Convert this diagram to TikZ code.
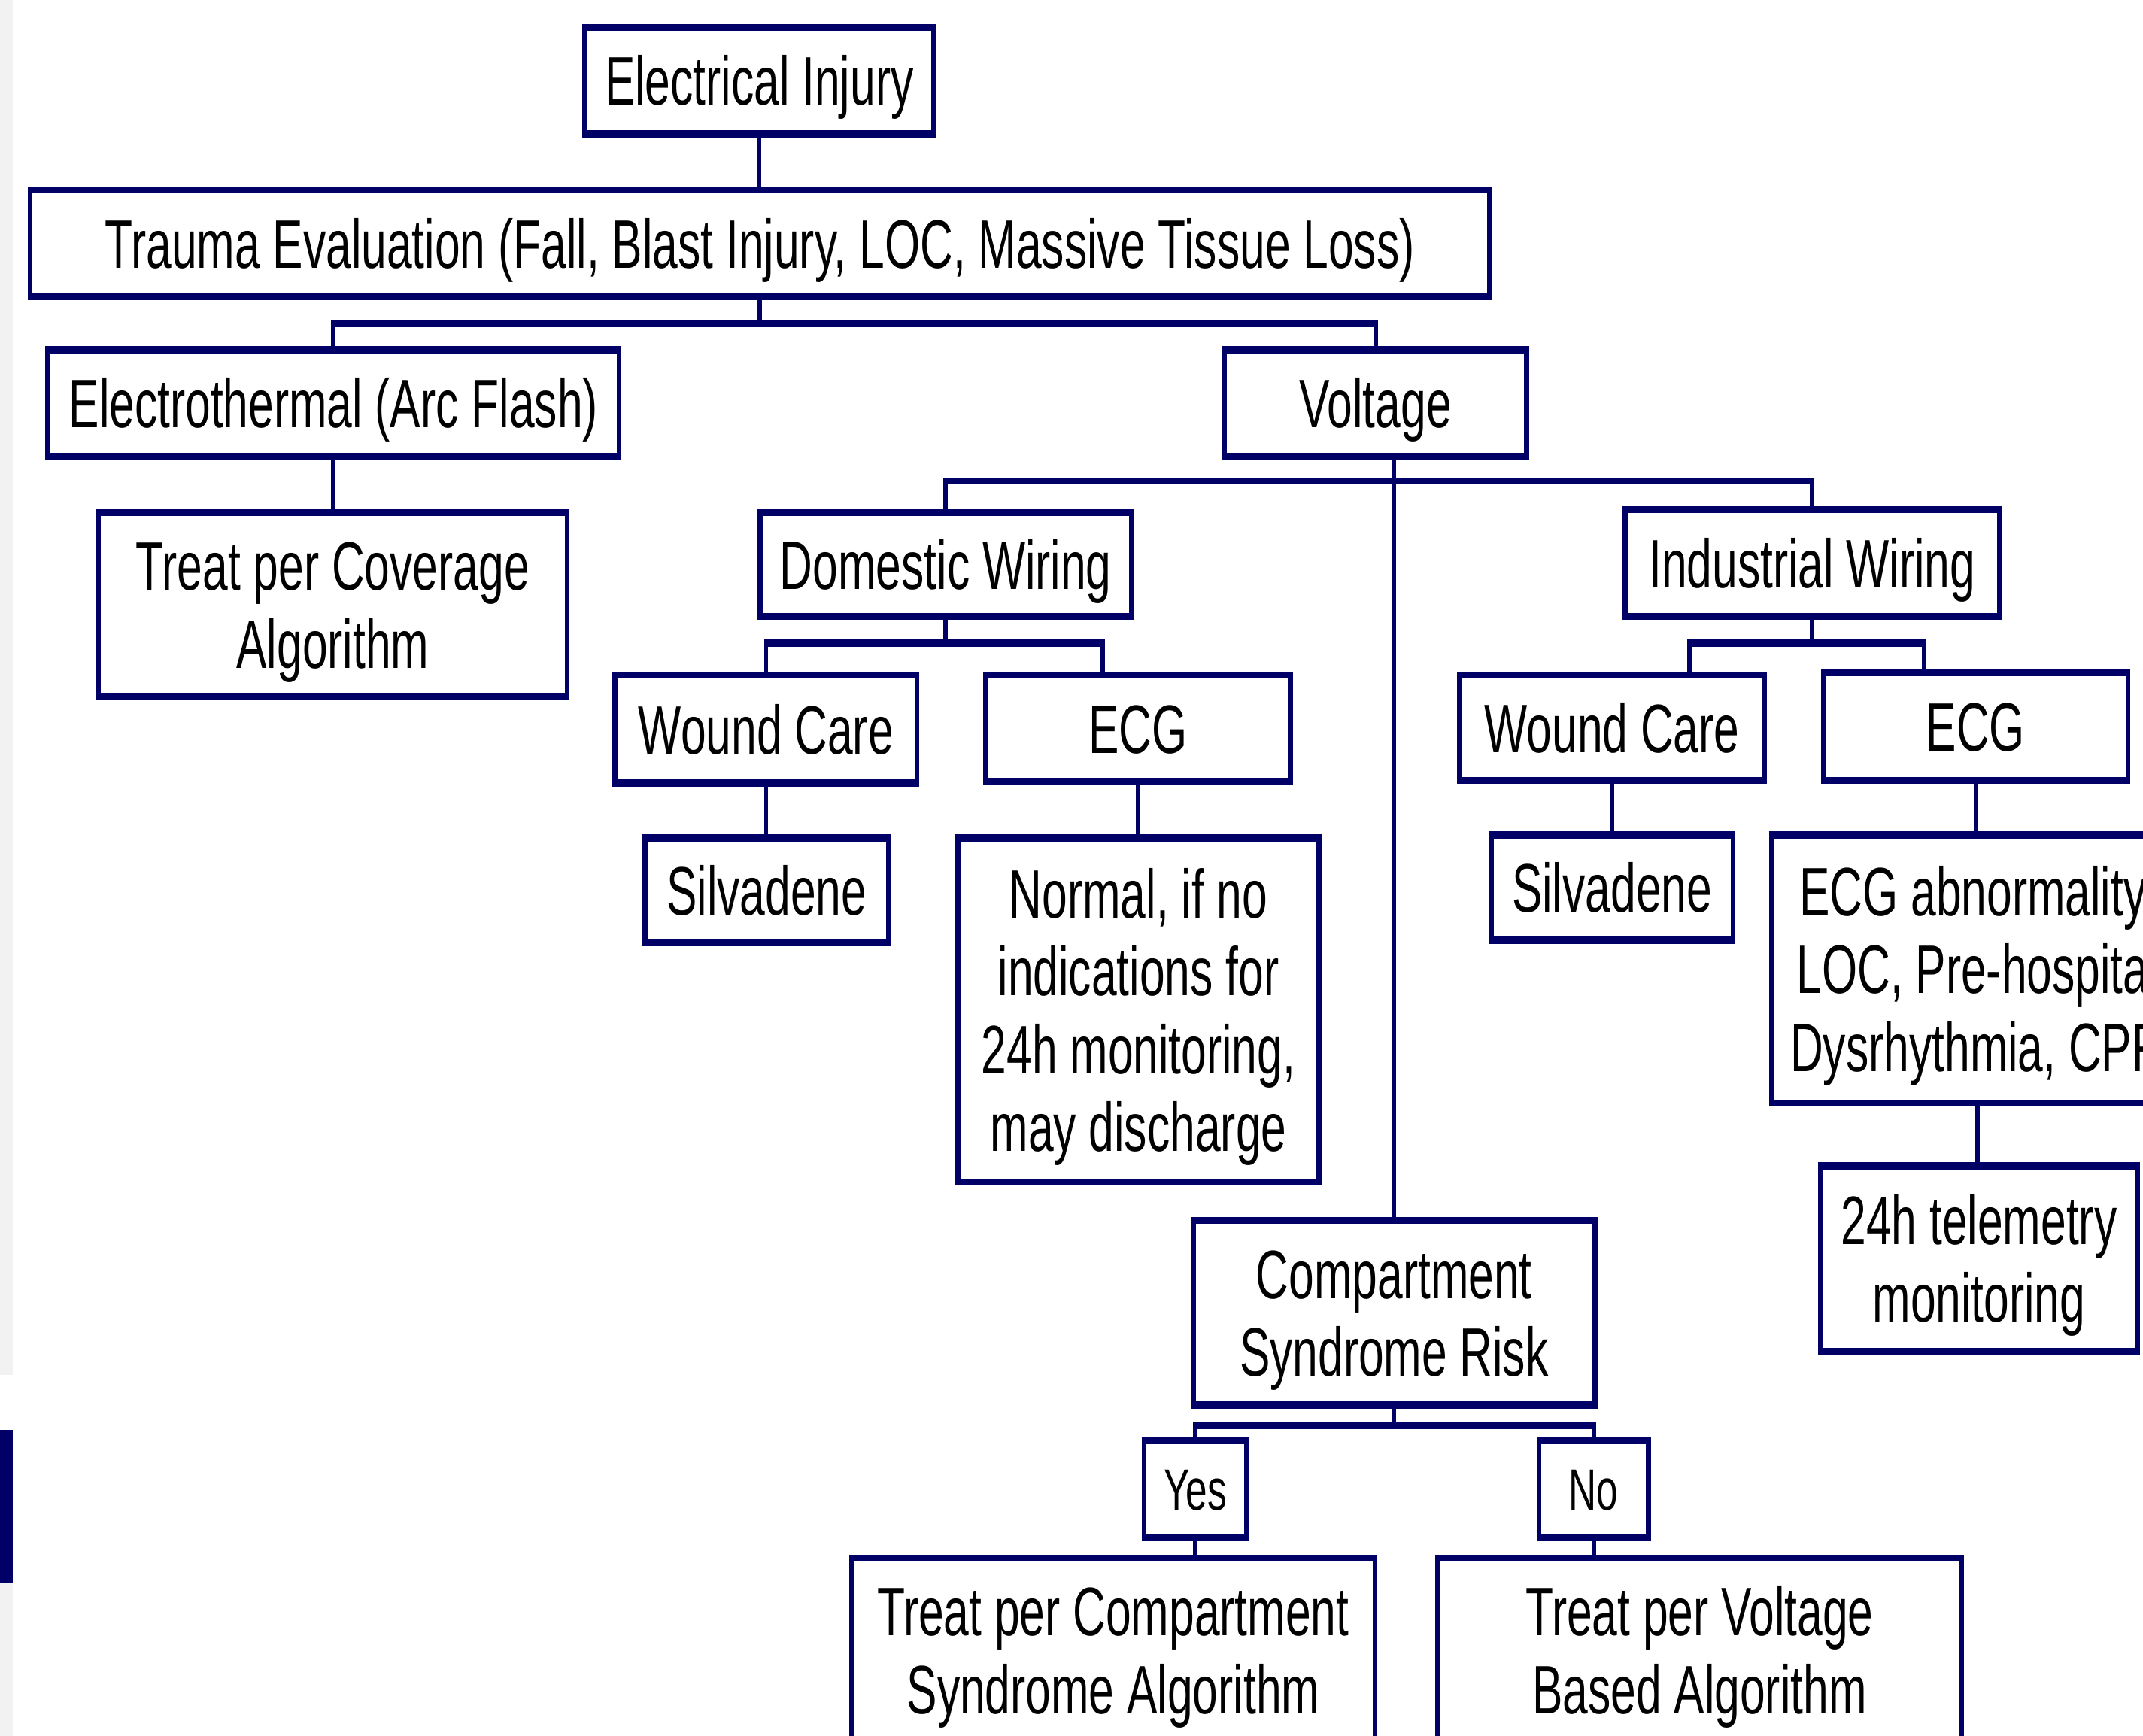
\documentclass[tikz,border=0pt]{standalone}
\usepackage{fontspec}
\newfontfamily\nar[FakeStretch=0.664]{Liberation Sans}
\definecolor{navy}{RGB}{0,0,102}
\definecolor{stripgray}{RGB}{242,242,242}
\newcommand\Lx[1]{\rule{0pt}{0.716em}\smash{#1}}
\begin{document}
\begin{tikzpicture}[x=0.5pt,y=-0.5pt,
  box/.style={draw=navy, line width=1.8pt, fill=white, inner sep=0pt, outer sep=0pt,
    align=center, text=black, font=\nar\fontsize{25.1}{28.5}\selectfont},
  small/.style={font=\nar\fontsize{21.3}{24}\selectfont},
  hl/.style={draw=navy, line width=2.6pt},
  vl/.style={draw=navy, line width=1.6pt},
  bus/.style={hl, shorten <=-0.8pt, shorten >=-0.8pt},
  edge/.style={hl, shorten <=-0.9pt, shorten >=-0.9pt}]
\useasboundingbox (0,0) rectangle (1568,1270);
\clip (0,0) rectangle (1568,1270);
\fill[white] (0,0) rectangle (1568,1270);
\fill[stripgray] (0,0) rectangle (9.3,1006);
\fill[stripgray] (0,1158) rectangle (9.3,1270);
\fill[navy] (0,1046) rectangle (9.3,1158);

% boxes
\node[box, minimum width=127.5pt, minimum height=39pt] (ei) at (555.5,59) {\Lx{Electrical Injury}};
\node[box, minimum width=534pt, minimum height=39pt] (te) at (556,178) {\Lx{Trauma Evaluation (Fall, Blast Injury, LOC, Massive Tissue Loss)}};
\node[box, minimum width=209pt, minimum height=39pt] (et) at (244,295) {\Lx{Electrothermal (Arc Flash)}};
\node[box, minimum width=110.5pt, minimum height=39pt] (vo) at (1006.5,295) {\Lx{Voltage}};
\node[box, minimum width=171.5pt, minimum height=67.5pt] (tc) at (243.5,442.5) {\Lx{Treat per Coverage}\\\Lx{Algorithm}};
\node[box, minimum width=136pt, minimum height=38pt] (dw) at (692,413) {\Lx{Domestic Wiring}};
\node[box, minimum width=137pt, minimum height=39pt] (iw) at (1326,412) {\Lx{Industrial Wiring}};
\node[box, minimum width=110.5pt, minimum height=39.5pt] (wcd) at (560.5,533.5) {\Lx{Wound Care}};
\node[box, minimum width=111.5pt, minimum height=39pt] (ecgd) at (832.5,533) {\Lx{ECG}};
\node[box, minimum width=89pt, minimum height=38.5pt] (sd) at (561,651.5) {\Lx{Silvadene}};
\node[box, minimum width=132pt, minimum height=126pt] (nm) at (833,739) {\Lx{Normal, if no}\\\Lx{indications for}\\\Lx{24h monitoring,}\\\Lx{may discharge}};
\node[box, minimum width=111.5pt, minimum height=38.5pt] (wci) at (1179.5,532.5) {\Lx{Wound Care}};
\node[box, minimum width=111.5pt, minimum height=39.5pt] (ecgi) at (1445.5,531.5) {\Lx{ECG}};
\node[box, minimum width=88.5pt, minimum height=38.5pt] (si) at (1179.5,649.5) {\Lx{Silvadene}};
\node[box, minimum width=151pt, minimum height=98pt] (ea) at (1447,709) {\Lx{ECG abnormality,}\\\Lx{LOC, Pre-hospital}\\\Lx{Dysrhythmia, CPR}};
\node[box, minimum width=116pt, minimum height=68pt] (tel) at (1448,921) {\Lx{24h telemetry}\\\Lx{monitoring}};
\node[box, minimum width=147pt, minimum height=67.5pt] (cs) at (1020,960.5) {\Lx{Compartment}\\\Lx{Syndrome Risk}};
\node[box, small, minimum width=37.5pt, minimum height=35.5pt] (yes) at (874.5,1089.5) {\Lx{Yes}};
\node[box, small, minimum width=40pt, minimum height=35.5pt] (no) at (1166,1089.5) {\Lx{No}};
\node[box, minimum width=191.5pt, minimum height=67.5pt] (tpc) at (814.5,1207.5) {\Lx{Treat per Compartment}\\\Lx{Syndrome Algorithm}};
\node[box, minimum width=191.5pt, minimum height=67.5pt] (tpv) at (1243.5,1207.5) {\Lx{Treat per Voltage}\\\Lx{Based Algorithm}};

% thicker top and bottom edges
\foreach \n in {ei,te,et,vo,tc,dw,iw,wcd,ecgd,sd,nm,wci,ecgi,si,ea,tel,cs,yes,no,tpc,tpv}{
  \draw[edge] (\n.north west) -- (\n.north east);
  \draw[edge] (\n.south west) -- (\n.south east);
}

% connectors
\draw[vl] (ei.south) -- (ei.south |- te.north);
\coordinate (b1) at (556,237);
\draw[vl] (te.south) -- (b1);
\draw[bus] (b1 -| et.north) -- (b1 -| vo.north);
\draw[vl] (b1 -| et.north) -- (et.north);
\draw[vl] (b1 -| vo.north) -- (vo.north);
\draw[vl] (et.south) -- (et.south |- tc.north);

\coordinate (b2) at (1020,352);
\draw[vl] (vo.south -| cs.north) -- (cs.north);
\draw[bus] (b2 -| dw.north) -- (b2 -| iw.north);
\draw[vl] (b2 -| dw.north) -- (dw.north);
\draw[vl] (b2 -| iw.north) -- (iw.north);

\coordinate (b3l) at (560.5,470.5);
\coordinate (b3r) at (807,470.5);
\draw[vl] (dw.south) -- (dw.south |- b3l);
\draw[bus] (b3l) -- (b3r);
\draw[vl] (b3l) -- (b3l |- wcd.north);
\draw[vl] (b3r) -- (b3r |- ecgd.north);
\draw[vl] (wcd.south) -- (wcd.south |- sd.north);
\draw[vl] (ecgd.south) -- (ecgd.south |- nm.north);

\coordinate (b4l) at (1236,470.5);
\coordinate (b4r) at (1408,470.5);
\draw[vl] (iw.south) -- (iw.south |- b4l);
\draw[bus] (b4l) -- (b4r);
\draw[vl] (b4l) -- (b4l |- wci.north);
\draw[vl] (b4r) -- (b4r |- ecgi.north);
\draw[vl] (wci.south) -- (wci.south |- si.north);
\draw[vl] (ecgi.south) -- (ecgi.south |- ea.north);
\draw[vl] (ea.south) -- (ea.south |- tel.north);

\coordinate (b5) at (1020,1043);
\draw[vl] (cs.south) -- (b5);
\draw[bus] (b5 -| yes.north) -- (b5 -| no.north);
\draw[vl] (b5 -| yes.north) -- (yes.north);
\draw[vl] (b5 -| no.north) -- (no.north);
\draw[vl] (yes.south) -- (yes.south |- tpc.north);
\draw[vl] (no.south) -- (no.south |- tpv.north);
\end{tikzpicture}
\end{document}
